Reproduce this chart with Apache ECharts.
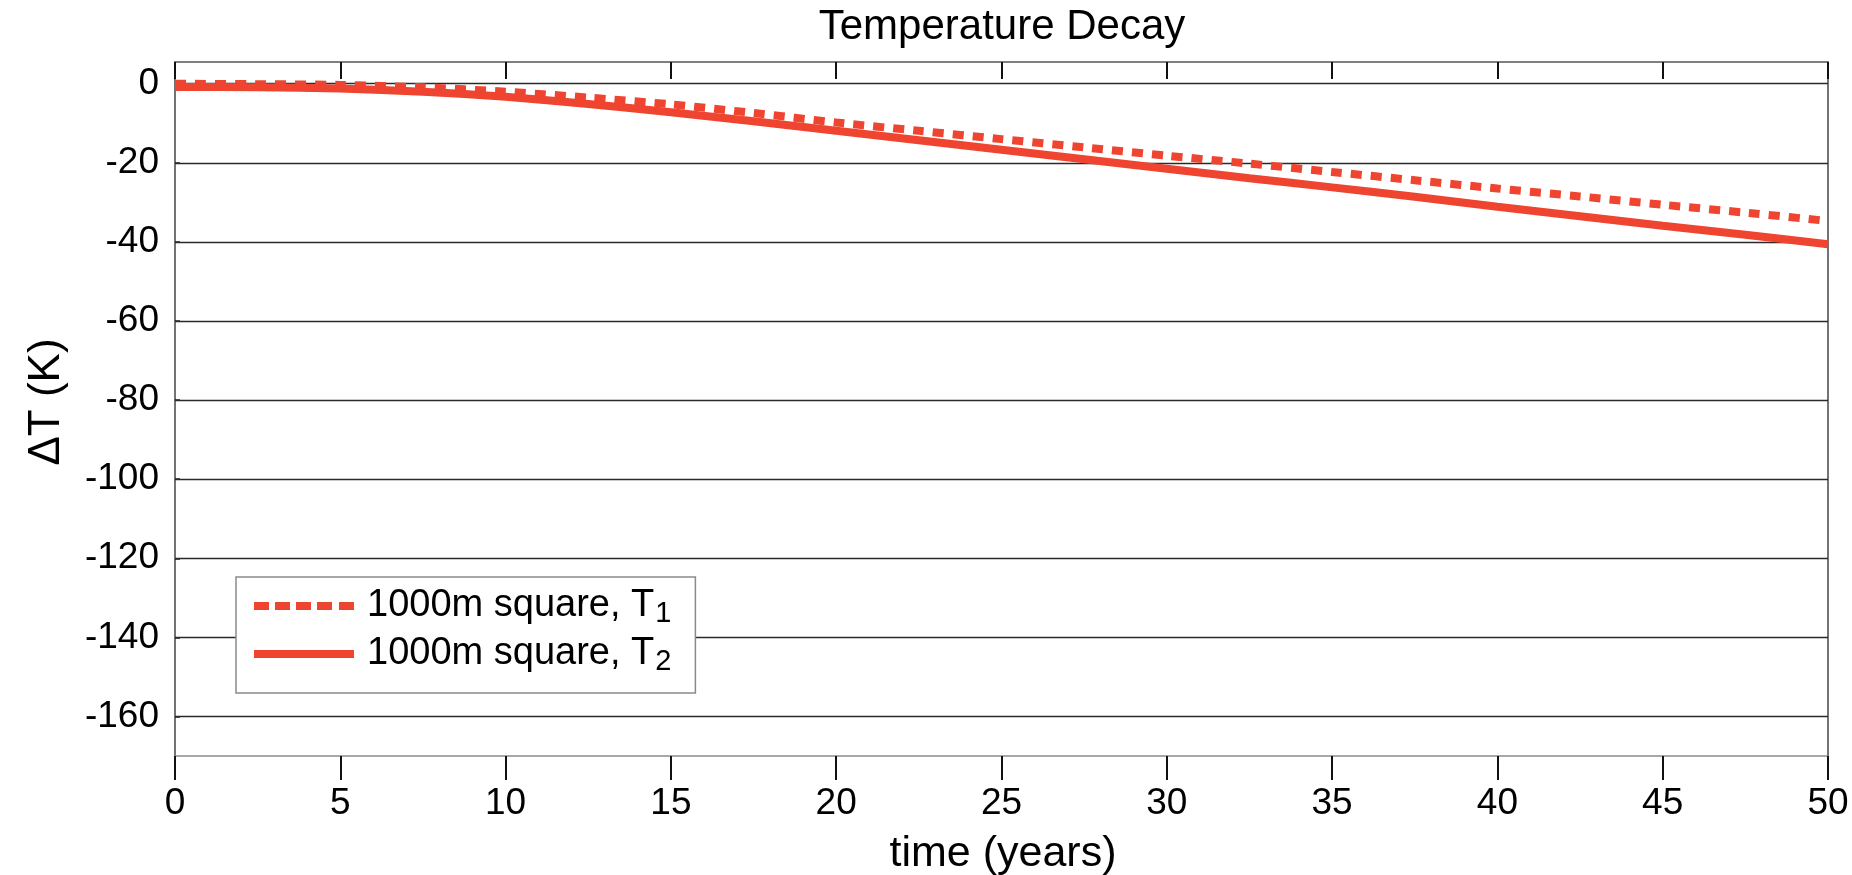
<!DOCTYPE html>
<html>
<head>
<meta charset="utf-8">
<title>Temperature Decay</title>
<script src="https://cdn.jsdelivr.net/npm/echarts@6/dist/echarts.min.js"></script>
<style>
  html, body { margin: 0; padding: 0; background: #fff; }
  #chart { width: 1852px; height: 875px; }
</style>
</head>
<body>
<div id="chart"></div>
<script>
// time axis (years)
const years = [0, 2.5, 5, 7.5, 10, 12.5, 15, 17.5, 20, 22.5, 25, 27.5, 30, 32.5, 35, 37.5, 40, 42.5, 45, 47.5, 50];
// temperature change of the 1000 m square, T1 and T2 (K)
const deltaT1 = [0.0, -0.1, -0.3, -0.9, -2.0, -3.5, -5.2, -7.4, -9.8, -11.9, -14.0, -16.1, -18.2, -20.2, -22.3, -24.4, -26.5, -28.5, -30.6, -32.6, -34.7];
const deltaT2 = [-0.8, -0.9, -1.2, -2.0, -3.3, -5.1, -7.2, -9.5, -11.9, -14.3, -16.7, -19.1, -21.5, -23.9, -26.2, -28.6, -31.1, -33.5, -35.9, -38.2, -40.6];
const seriesNames = ['1000m square, T1', '1000m square, T2'];
// y tick values
const yTicks = [0, -20, -40, -60, -80, -100, -120, -140, -160];

const RED = '#ee4430';
const tickFont = "'Liberation Sans Narrow', 'Arial Narrow', 'Liberation Sans', Arial, sans-serif";
const textFont = "'Liberation Sans', Arial, sans-serif";

// legend glyphs: a five-dash stroke and a solid stroke
const dashIcon = 'path://M0,0h15v8h-15z M21,0h15v8h-15z M42,0h15v8h-15z M63,0h15v8h-15z M85,0h15v8h-15z';
const solidIcon = 'path://M0,0h100v8h-100z';

const chart = echarts.init(document.getElementById('chart'), null, { renderer: 'canvas' });

const pairs = (ys) => years.map((x, i) => [x, ys[i]]);

chart.setOption({
  animation: false,
  backgroundColor: '#fff',
  grid: { left: 175, right: 24, top: 62, bottom: 119, containLabel: false },
  graphic: [
    { type: 'text', x: 1002, y: 27, style: { text: 'Temperature Decay', font: '42px ' + textFont, fill: '#000', align: 'center', verticalAlign: 'middle' } },
    { type: 'text', x: 1003, y: 854, style: { text: 'time (years)', font: '43px ' + textFont, fill: '#000', align: 'center', verticalAlign: 'middle' } },
    { type: 'text', x: 47, y: 402, rotation: Math.PI / 2, style: { text: '\u0394T (K)', font: '44px ' + textFont, fill: '#000', align: 'center', verticalAlign: 'middle' } }
  ],
  legend: {
    left: 236, top: 577,
    orient: 'vertical',
    data: [
      { name: seriesNames[0], icon: dashIcon },
      { name: seriesNames[1], icon: solidIcon }
    ],
    backgroundColor: '#fff',
    borderColor: '#8a8a8a', borderWidth: 1.5, borderRadius: 0,
    padding: [8, 24, 17, 18],
    itemGap: 5,
    itemWidth: 100, itemHeight: 8,
    symbolKeepAspect: false,
    selectedMode: false,
    itemStyle: { color: RED, borderWidth: 0 },
    formatter: (name) => {
      const m = name.match(/^(.*T)(\d)$/);
      return '{a|' + m[1] + '}{s|' + m[2] + '}';
    },
    textStyle: {
      rich: {
        a: { fontFamily: textFont, fontSize: 38, lineHeight: 44, padding: [0, 0, 0, 8], color: '#000', verticalAlign: 'middle' },
        s: { fontFamily: textFont, fontSize: 29, lineHeight: 18, padding: [14, 0, 0, 1], color: '#000', verticalAlign: 'bottom' }
      }
    }
  },
  xAxis: [
    {
      type: 'value', position: 'bottom', min: 0, max: 50, interval: 5,
      axisLine: { show: true, onZero: false, lineStyle: { color: '#8c8c8c', width: 1.5 } },
      axisTick: { show: true, inside: false, length: 24, lineStyle: { color: '#111', width: 2 } },
      axisLabel: { margin: 29, fontFamily: tickFont, fontSize: 37, color: '#000' },
      splitLine: { show: false }
    },
    {
      type: 'value', position: 'top', min: 0, max: 50, interval: 5,
      axisLine: { show: true, onZero: false, lineStyle: { color: '#555', width: 1.5 } },
      axisTick: { show: true, inside: true, length: 17, lineStyle: { color: '#111', width: 2 } },
      axisLabel: { show: false },
      splitLine: { show: false }
    }
  ],
  yAxis: [
    {
      type: 'value', position: 'left', min: -170, max: 5.5,
      axisLine: { show: true, onZero: false, lineStyle: { color: '#444', width: 1.5 } },
      axisTick: { show: true, inside: true, length: 5, customValues: yTicks, lineStyle: { color: '#222', width: 1.5 } },
      axisLabel: { margin: 16, customValues: yTicks, fontFamily: tickFont, fontSize: 37, color: '#000' },
      splitLine: { show: false }
    },
    {
      type: 'value', position: 'right', min: -170, max: 5.5,
      axisLine: { show: true, onZero: false, lineStyle: { color: '#444', width: 1.5 } },
      axisTick: { show: false }, axisLabel: { show: false }, splitLine: { show: false }
    }
  ],
  series: [
    {
      // horizontal grid lines at the labelled y ticks
      type: 'line', name: 'grid', data: [], silent: true, z: 1,
      markLine: {
        z: 1, silent: true, symbol: 'none', animation: false,
        label: { show: false },
        lineStyle: { color: '#2a2a2a', width: 1.4, type: 'solid' },
        data: yTicks.map(v => ({ yAxis: v }))
      }
    },
    {
      name: seriesNames[0], type: 'line', data: pairs(deltaT1),
      showSymbol: false, symbol: 'none', smooth: 0.2, z: 3,
      lineStyle: { color: RED, width: 8, type: [11, 9], cap: 'butt' },
      itemStyle: { color: RED }
    },
    {
      name: seriesNames[1], type: 'line', data: pairs(deltaT2),
      showSymbol: false, symbol: 'none', smooth: 0.2, z: 3,
      lineStyle: { color: RED, width: 8, type: 'solid' },
      itemStyle: { color: RED }
    }
  ]
});
</script>
</body>
</html>
